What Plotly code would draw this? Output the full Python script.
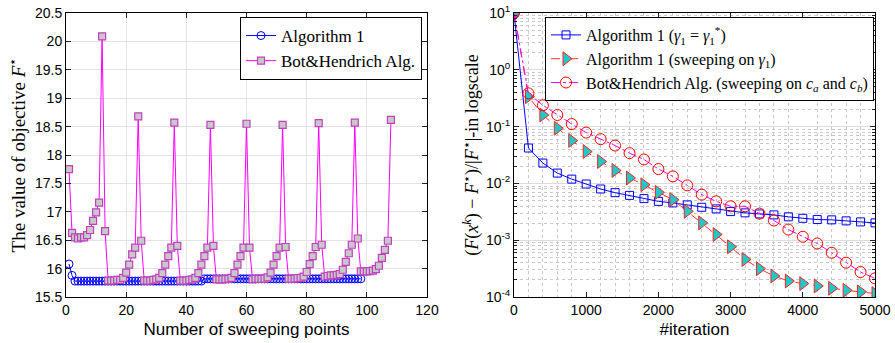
import plotly.graph_objects as go

# ---------------- Left panel data ----------------
sweep_x = list(range(1, 109))
bot_sweep = [17.75, 16.63, 16.55, 16.53, 16.55, 16.55, 16.59, 16.68, 16.84, 16.99, 17.16, 20.09,
             16.66, 15.79, 15.79, 15.79, 15.80, 15.80, 15.835, 15.93, 16.07, 16.25, 16.37, 18.68,
             16.49, 15.79, 15.79, 15.79, 15.80, 15.81, 15.835, 15.92, 16.07, 16.22, 16.37, 18.57,
             16.40, 15.79, 15.79, 15.79, 15.80, 15.81, 15.835, 15.92, 16.07, 16.22, 16.37, 18.53,
             16.40, 15.81, 15.81, 15.81, 15.815, 15.82, 15.835, 15.92, 16.07, 16.22, 16.37, 18.55,
             16.37, 15.81, 15.82, 15.82, 15.82, 15.825, 15.846, 15.93, 16.07, 16.22, 16.37, 18.53,
             16.38, 15.82, 15.82, 15.825, 15.83, 15.835, 15.86, 15.94, 16.08, 16.22, 16.38, 18.56,
             16.42, 15.86, 15.87, 15.88, 15.88, 15.89, 15.905, 15.98, 16.12, 16.27, 16.42, 18.57,
             16.53, 15.95, 15.95, 15.95, 15.955, 15.965, 15.99, 16.05, 16.19, 16.33, 16.49, 18.62]
alg1_x = list(range(1, 99))
alg1_sweep = [16.08, 15.88] + [15.78] * 43 + [15.82] * 53

# ---------------- Right panel data ----------------
iters = list(range(0, 5001, 200))
alg1_opt = [10, 0.042, 0.0228, 0.0152, 0.0119, 0.00975, 0.00797, 0.00687, 0.00615, 0.0054,
            0.00483, 0.00453, 0.00418, 0.0038, 0.00356, 0.00319, 0.00303, 0.0029, 0.00279,
            0.00258, 0.00243, 0.00231, 0.00228, 0.00219, 0.0021, 0.00202]
alg1_sweepg = [10, 0.336, 0.160, 0.0937, 0.0568, 0.0364, 0.0243, 0.0169, 0.01245, 0.00948,
               0.00695, 0.00518, 0.00323, 0.00202, 0.00126, 0.000766, 0.000458, 0.000315,
               0.000234, 0.000191, 0.000172, 0.000156, 0.000142, 0.000131, 0.000123, 0.000115]
bot_iter = [10, 0.385, 0.237, 0.160, 0.111, 0.0785, 0.0601, 0.0464, 0.0341, 0.0264, 0.0179,
            0.0133, 0.00923, 0.00634, 0.00483, 0.00395, 0.00395, 0.00294, 0.00222, 0.00154,
            0.00115, 0.000876, 0.000601, 0.000402, 0.000275, 0.000213]

left_yticks = [15.5, 16, 16.5, 17, 17.5, 18, 18.5, 19, 19.5, 20, 20.5]
left_yticktext = ["15.5", "16", "16.5", "17", "17.5", "18", "18.5", "19", "19.5", "20", "20.5"]
log_tickvals = [1e-4, 1e-3, 1e-2, 1e-1, 1e0, 1e1]
log_ticktext = ["10<sup>-4</sup>", "10<sup>-3</sup>", "10<sup>-2</sup>", "10<sup>-1</sup>",
                "10<sup>0</sup>", "10<sup>1</sup>"]

W, H = 895, 343
def px_x(p): return p / W
def px_y(p): return 1 - p / H

SANS = "Liberation Sans, Arial, sans-serif"
SERIF = "Liberation Serif, Times New Roman, serif"

fig = go.Figure()

fig.add_trace(go.Scatter(
    x=alg1_x, y=alg1_sweep, mode="lines+markers", name="Algorithm 1",
    line=dict(color="#0000FF", width=1),
    marker=dict(symbol="circle-open", size=8, color="#0000FF", line=dict(width=1)),
    xaxis="x", yaxis="y", legend="legend"))
fig.add_trace(go.Scatter(
    x=sweep_x, y=bot_sweep, mode="lines+markers", name="Bot&amp;Hendrich Alg.",
    line=dict(color="#FF00FF", width=1),
    marker=dict(symbol="square", size=7, color="#C8C8C8", line=dict(width=1.2, color="#C040C0")),
    xaxis="x", yaxis="y", legend="legend"))

fig.add_trace(go.Scatter(
    x=iters, y=alg1_opt, mode="lines+markers",
    name="Algorithm 1 (<i>γ</i><sub>1</sub> = <i>γ</i><sub>1</sub><sup>*</sup>)",
    line=dict(color="#0000FF", width=1),
    marker=dict(symbol="square-open", size=8, color="#0000FF", line=dict(width=1)),
    xaxis="x2", yaxis="y2", legend="legend2"))
fig.add_trace(go.Scatter(
    x=iters, y=alg1_sweepg, mode="lines+markers",
    name="Algorithm 1 (sweeping on <i>γ</i><sub>1</sub>)",
    line=dict(color="#FF3030", width=1, dash="dash"),
    marker=dict(symbol="triangle-right", size=12, color="#20C8C8", line=dict(width=1, color="#FF2020")),
    xaxis="x2", yaxis="y2", legend="legend2"))
fig.add_trace(go.Scatter(
    x=iters, y=bot_iter, mode="lines+markers",
    name="Bot&amp;Hendrich Alg. (sweeping on <i>c<sub>a</sub></i> and <i>c<sub>b</sub></i>)",
    line=dict(color="#FF00FF", width=1, dash="dashdot"),
    marker=dict(symbol="circle-open", size=11, color="#FF0000", line=dict(width=1)),
    xaxis="x2", yaxis="y2", legend="legend2"))

axis_common = dict(showline=True, linecolor="black", linewidth=1, mirror="allticks",
                   ticks="inside", ticklen=5, tickcolor="#222", zeroline=False,
                   tickfont=dict(family=SANS, size=14, color="black"), automargin=False)

minor_logs = []
for e in range(-4, 1):
    for m in range(2, 10):
        minor_logs.append(m * 10 ** e)

fig.update_layout(
    width=W, height=H, margin=dict(l=0, r=0, t=0, b=0),
    paper_bgcolor="white", plot_bgcolor="white", showlegend=True,
    xaxis=dict(domain=[px_x(66), px_x(427)], range=[0, 120], dtick=20,
               showgrid=True, gridcolor="#E3E3E3", gridwidth=1, anchor="y",
               title=dict(text="Number of sweeping points", font=dict(family=SANS, size=17, color="black"),
                          standoff=6),
               **axis_common),
    yaxis=dict(domain=[px_y(297), px_y(13)], range=[15.5, 20.5], tickvals=left_yticks,
               ticktext=left_yticktext, showgrid=True, gridcolor="#E3E3E3", gridwidth=1, anchor="x",
               title=dict(text="The value of objective <i>F</i><sup>⋆</sup>",
                          font=dict(family=SERIF, size=19, color="black"), standoff=4),
               **axis_common),
    xaxis2=dict(domain=[px_x(514), px_x(875)], range=[0, 5000], dtick=1000,
                showgrid=False, anchor="y2",
                minor=dict(dtick=200, showgrid=True, griddash="dot", gridcolor="#C8C8C8", ticks=""),
                title=dict(text="#iteration", font=dict(family=SANS, size=17, color="black"), standoff=6),
                **axis_common),
    yaxis2=dict(domain=[px_y(297), px_y(13)], type="log", range=[-4, 1],
                tickvals=log_tickvals, ticktext=log_ticktext,
                showgrid=True, gridcolor="#DCDCDC", gridwidth=1, anchor="x2",
                minor=dict(tickvals=minor_logs, showgrid=True, griddash="dot", gridcolor="#C8C8C8",
                           ticks="inside", ticklen=3, tickcolor="#222"),
                title=dict(text="(<i>F</i>(<i>x</i><sup><i>k</i></sup>) − <i>F</i><sup>⋆</sup>)/|<i>F</i><sup>⋆</sup>|-in logscale",
                           font=dict(family=SERIF, size=18, color="black"), standoff=2),
                **axis_common),
    legend=dict(x=px_x(422), y=px_y(17), xanchor="right", yanchor="top",
                bgcolor="white", bordercolor="black", borderwidth=1,
                font=dict(family=SERIF, size=17, color="black"),
                tracegroupgap=0, itemsizing="trace"),
    legend2=dict(x=px_x(874), y=px_y(17), xanchor="right", yanchor="top",
                 bgcolor="white", bordercolor="black", borderwidth=1,
                 font=dict(family=SERIF, size=16, color="black"),
                 tracegroupgap=0, itemsizing="trace"),
)

fig.write_html("out.html", config={"displayModeBar": False},
               post_script="document.body.style.margin='0';document.body.style.overflow='hidden';")
